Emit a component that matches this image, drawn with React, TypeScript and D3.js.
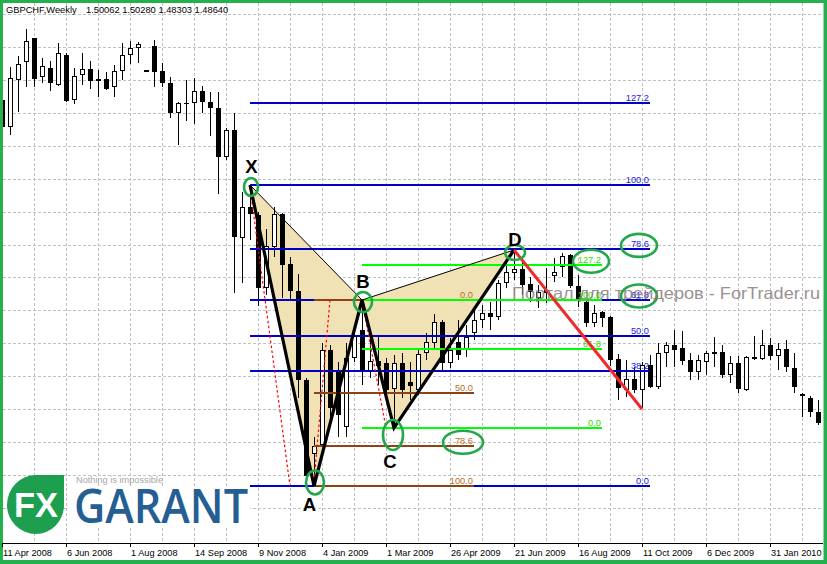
import React from 'react';
import * as d3 from 'd3';

const W = 827;
const H = 564;

// Weekly GBPCHF candles (bar index 0 .. 102)
const opens = [1.900,1.873,1.920,1.938,1.962,1.923,1.932,1.915,1.945,1.900,
1.925,1.931,1.919,1.921,1.913,1.929,1.945,1.952,1.930,1.954,
1.929,1.917,1.887,1.897,1.897,1.909,1.898,1.892,1.843,1.870,
1.762,1.793,1.785,1.712,1.753,1.786,1.736,1.709,1.620,1.546,
1.555,1.650,1.630,1.573,1.642,1.670,1.628,1.639,1.637,1.611,
1.637,1.618,1.610,1.647,1.657,1.678,1.637,1.658,1.650,1.667,
1.680,1.687,1.683,1.717,1.727,1.731,1.716,1.702,1.710,1.724,
1.733,1.745,1.714,1.698,1.677,1.688,1.683,1.641,1.610,1.621,
1.610,1.635,1.613,1.647,1.655,1.652,1.640,1.628,1.638,1.648,
1.648,1.625,1.637,1.610,1.643,1.641,1.655,1.644,1.651,1.632,
1.606,1.602,1.588];
const highs = [1.904,1.933,1.944,1.971,1.962,1.942,1.939,1.957,1.947,1.932,
1.947,1.939,1.930,1.928,1.935,1.957,1.959,1.958,1.930,1.960,
1.937,1.923,1.898,1.920,1.922,1.914,1.908,1.908,1.872,1.887,
1.808,1.815,1.788,1.771,1.793,1.787,1.743,1.726,1.622,1.563,
1.657,1.655,1.638,1.657,1.675,1.700,1.663,1.663,1.642,1.645,
1.647,1.638,1.650,1.667,1.686,1.680,1.662,1.680,1.675,1.690,
1.695,1.698,1.720,1.738,1.750,1.738,1.723,1.715,1.732,1.742,
1.747,1.746,1.725,1.700,1.695,1.689,1.684,1.646,1.640,1.633,
1.638,1.645,1.657,1.658,1.670,1.669,1.647,1.645,1.649,1.663,
1.655,1.644,1.644,1.644,1.664,1.670,1.662,1.657,1.660,1.647,
1.607,1.604,1.600];
const lows = [1.868,1.865,1.888,1.913,1.913,1.917,1.909,1.914,1.898,1.896,
1.915,1.911,1.903,1.910,1.903,1.920,1.936,1.937,1.928,1.913,
1.913,1.882,1.855,1.879,1.876,1.887,1.864,1.806,1.840,1.707,
1.717,1.760,1.694,1.705,1.743,1.702,1.700,1.602,1.518,1.514,
1.553,1.575,1.563,1.563,1.638,1.615,1.622,1.615,1.600,1.572,
1.602,1.600,1.605,1.640,1.650,1.630,1.632,1.640,1.643,1.660,
1.672,1.670,1.680,1.712,1.720,1.705,1.698,1.692,1.697,1.718,
1.723,1.712,1.693,1.673,1.673,1.673,1.634,1.600,1.603,1.607,
1.592,1.612,1.611,1.633,1.633,1.635,1.620,1.620,1.625,1.633,
1.622,1.617,1.607,1.609,1.640,1.640,1.640,1.630,1.628,1.607,
1.583,1.583,1.575];
const closes = [1.873,1.922,1.936,1.959,1.921,1.934,1.917,1.947,1.899,1.924,
1.931,1.919,1.921,1.911,1.929,1.945,1.952,1.956,1.928,1.928,
1.917,1.887,1.897,1.897,1.909,1.898,1.892,1.843,1.870,1.763,
1.793,1.786,1.712,1.754,1.786,1.735,1.709,1.620,1.524,1.554,
1.650,1.592,1.585,1.642,1.665,1.628,1.639,1.634,1.610,1.637,
1.610,1.614,1.646,1.658,1.678,1.637,1.650,1.645,1.663,1.680,
1.687,1.683,1.717,1.728,1.731,1.715,1.708,1.708,1.707,1.728,
1.744,1.714,1.700,1.677,1.687,1.682,1.640,1.612,1.621,1.610,
1.635,1.613,1.647,1.655,1.650,1.639,1.628,1.640,1.647,1.646,
1.625,1.637,1.611,1.643,1.641,1.655,1.644,1.651,1.633,1.613,
1.604,1.588,1.577];

// Date labels every 8 bars
const dateLabels = ["11 Apr 2008","6 Jun 2008","1 Aug 2008","14 Sep 2008","9 Nov 2008","4 Jan 2009","1 Mar 2009","26 Apr 2009","21 Jun 2009","16 Aug 2009","11 Oct 2009","6 Dec 2009","31 Jan 2010"];

// Harmonic pattern points
const patternNames = ["X","A","B","C","D"];
const patternBars = [31, 39, 45, 49, 64];
const patternPrices = [1.815, 1.514, 1.700, 1.572, 1.750];

// Fibonacci levels
const blueLevels = [0, 38.2, 50, 61.8, 78.6, 100, 127.2];
const brownLevels = [0, 50, 78.6, 100];
const greenLevels = [0, 61.8, 100, 127.2];

// Red projection line
const redBars = [64, 80];
const redPrices = [1.750, 1.591];

// Red dotted helper lines [bar, price] pairs
const dottedLines = [
  [[31, 1.813], [36, 1.514]],
  [[41, 1.700], [39, 1.518]],
  [[45, 1.700], [48, 1.572]],
];

const gridTopPrice = 1.9857;
const gridStep = 0.0329;

export default function App() {
  const x = d3.scaleLinear().domain([0, 102]).range([2, 818]);
  const y = d3.scaleLinear().domain([2.0, 1.4]).range([0, 600]);

  const [X, A, B, C, D] = patternPrices;
  const bars = patternBars;

  const font = "'Liberation Sans', Arial, sans-serif";

  const vGrid = d3.range(4, 101, 4);
  const hGrid = d3.range(0, 16).map(i => gridTopPrice - i * gridStep);

  const pt = (i: number) => [x(bars[i]), y(patternPrices[i])];

  const fibSets = [
    { levels: blueLevels, p0: A, p100: X, b0: 31, b1: 81, line: '#0000c8', label: '#1a1ae6' },
    { levels: brownLevels, p0: B, p100: A, b0: 39, b1: 59, line: '#8b4513', label: '#b8702e' },
    { levels: greenLevels, p0: C, p100: B, b0: 45, b1: 75, line: '#00ff00', label: '#33dd00' },
  ];
  const fibPrice = (s: any, r: number) => s.p0 + (r / 100) * (s.p100 - s.p0);

  // label circles: [set index, level]
  const labelCircles: [number, number][] = [[0, 78.6], [0, 61.8], [1, 78.6], [2, 127.2]];

  const circleR = [[7, 9], [9, 12], [9, 10], [10, 15], [10, 7.5]];
  const circleOff = [[1, 2], [1, -3.5], [1, 2], [-1, 7], [1, 2.5]];
  const letterOff = [[1.5, -12], [-4.5, 25], [1, -12], [-4, 40], [1, -4]];

  const tri1 = [pt(0), pt(1), pt(2)];
  const tri2 = [pt(2), pt(3), pt(4)];
  const zig = d3.line()(patternNames.map((_, i) => pt(i) as [number, number]));

  return (
    <svg width={W} height={H} style={{ position: 'absolute', left: 0, top: 0, display: 'block' }} fontFamily={font}>
      <defs>
        <clipPath id="plot"><rect x={3} y={3} width={820} height={540} /></clipPath>
      </defs>
      <rect x={0} y={0} width={W} height={H} fill="#22b14c" />
      <rect x={3} y={3} width={820.5} height={557} fill="#ffffff" />

      <g clipPath="url(#plot)">
        {/* grid */}
        {vGrid.map(b => (
          <line key={'v' + b} x1={Math.round(x(b)) + 0.5} x2={Math.round(x(b)) + 0.5} y1={3} y2={543}
            stroke="#c0c0c0" strokeDasharray="3,2" />
        ))}
        {hGrid.map((p, i) => (
          <line key={'h' + i} x1={3} x2={823} y1={Math.round(y(p)) + 0.5} y2={Math.round(y(p)) + 0.5}
            stroke="#c0c0c0" strokeDasharray="3,2" />
        ))}

        {/* pattern fills */}
        <polygon points={tri1.map(p => p.join(',')).join(' ')} fill="#f0e2b4" />
        <polygon points={tri2.map(p => p.join(',')).join(' ')} fill="#f0e2b4" />

        {/* candles */}
        {opens.map((o, i) => {
          const c = closes[i];
          const cx = Math.round(x(i));
          const top = Math.round(y(Math.max(o, c)));
          const bot = Math.round(y(Math.min(o, c)));
          const bull = c > o;
          return (
            <g key={'c' + i}>
              <line x1={cx + 0.5} x2={cx + 0.5} y1={Math.round(y(highs[i]))} y2={Math.round(y(lows[i]))} stroke="#000" />
              {bull ? (
                <rect x={cx - 1.5} y={top + 0.5} width={4} height={Math.max(0, bot - top - 1)} fill="#fff" stroke="#000" />
              ) : (
                <rect x={cx - 2} y={top} width={5} height={Math.max(1, bot - top)} fill="#000" />
              )}
            </g>
          );
        })}

        {/* fibonacci lines */}
        {fibSets.map((s, si) => (
          <g key={'f' + si}>
            {s.levels.map(r => {
              const yy = Math.round(y(fibPrice(s, r)));
              return (
                <g key={r}>
                  <line x1={x(s.b0)} x2={x(s.b1)} y1={yy} y2={yy} stroke={s.line} strokeWidth={2} />
                  <text x={x(s.b1) - 1} y={yy - 2.5} textAnchor="end" fontSize={9.3} fill={s.label}>{r.toFixed(1)}</text>
                </g>
              );
            })}
          </g>
        ))}

        {/* red dotted lines */}
        {dottedLines.map((seg, i) => (
          <line key={'d' + i} x1={x(seg[0][0])} y1={y(seg[0][1])} x2={x(seg[1][0])} y2={y(seg[1][1])}
            stroke="#ff0000" strokeWidth={1.2} strokeDasharray="2.5,2.5" />
        ))}

        {/* thin triangle edges */}
        <line x1={pt(0)[0]} y1={pt(0)[1]} x2={pt(2)[0]} y2={pt(2)[1]} stroke="#000" strokeWidth={1} />
        <line x1={pt(2)[0]} y1={pt(2)[1]} x2={pt(4)[0]} y2={pt(4)[1]} stroke="#000" strokeWidth={1} />

        {/* zigzag */}
        <path d={zig || ''} fill="none" stroke="#000" strokeWidth={3.2} strokeLinejoin="miter" />

        {/* red line */}
        <line x1={x(redBars[0])} y1={y(redPrices[0])} x2={x(redBars[1])} y2={y(redPrices[1])}
          stroke="#ee2a2a" strokeWidth={3} />

        {/* circles around points */}
        {patternNames.map((n, i) => (
          <ellipse key={'pc' + n} cx={pt(i)[0] + circleOff[i][0]} cy={pt(i)[1] + circleOff[i][1]}
            rx={circleR[i][0]} ry={circleR[i][1]} fill="none" stroke="#20a84a" strokeWidth={2.6} />
        ))}
        {labelCircles.map(([si, r], i) => {
          const s = fibSets[si];
          const yy = y(fibPrice(s, r));
          return (
            <ellipse key={'lc' + i} cx={x(s.b1) - 11} cy={yy - 4} rx={si === 1 ? 20 : 18} ry={11.5}
              fill="none" stroke="#20a84a" strokeWidth={2.6} />
          );
        })}

        {/* letters */}
        {patternNames.map((n, i) => (
          <text key={'l' + n} x={pt(i)[0] + letterOff[i][0]} y={pt(i)[1] + letterOff[i][1]}
            textAnchor="middle" fontSize={18.5} fontWeight="bold" fill="#000">{n}</text>
        ))}
      </g>

      {/* time axis */}
      <line x1={3} x2={823} y1={543.5} y2={543.5} stroke="#000" />
      {dateLabels.map((t, i) => {
        const tx = Math.round(x(i * 8));
        return (
          <g key={'t' + i}>
            <line x1={tx + 0.5} x2={tx + 0.5} y1={543} y2={547} stroke="#000" />
            <text x={tx + 1} y={556} fontSize={9.2} fill="#000">{t}</text>
          </g>
        );
      })}

      {/* header */}
      <text x={6} y={13} fontSize={9.3} fill="#000">GBPCHF,Weekly</text>
      <text x={86} y={13} fontSize={9.3} fill="#000">1.50062 1.50280 1.48303 1.48640</text>

      {/* logo */}
      <g>
        <rect x={68} y={487} width={182} height={40} fill="#ffffff" />
        <path d="M36,475 L64,475 L64,505 A28,29 0 0 1 36,534 A29,29 0 0 1 7,505 A29,30 0 0 1 36,475 Z" fill="#1d9f4f" />
        <text x={14} y={517} fontSize={35} fontWeight="bold" fill="#ffffff" textLength={44} lengthAdjust="spacingAndGlyphs">FX</text>
        <text x={57} y={484} fontSize={9} textAnchor="middle" fill="#1d9f4f">®</text>
        <text x={76} y={483} fontSize={9.5} fill="#a8a8a8" textLength={87} lengthAdjust="spacingAndGlyphs">Nothing is impossible</text>
        <text x={74} y={523} fontSize={47} fontWeight="600" fill="#255e93" fontFamily="'Open Sans', sans-serif"
          textLength={174} lengthAdjust="spacingAndGlyphs">GARANT</text>
      </g>

      {/* watermark */}
      <text x={512} y={298.5} fontSize={16.5} fill="rgb(135,122,122)" opacity={0.82}
        textLength={308} lengthAdjust="spacingAndGlyphs">Портал для трейдеров - ForTrader.ru</text>
    </svg>
  );
}
